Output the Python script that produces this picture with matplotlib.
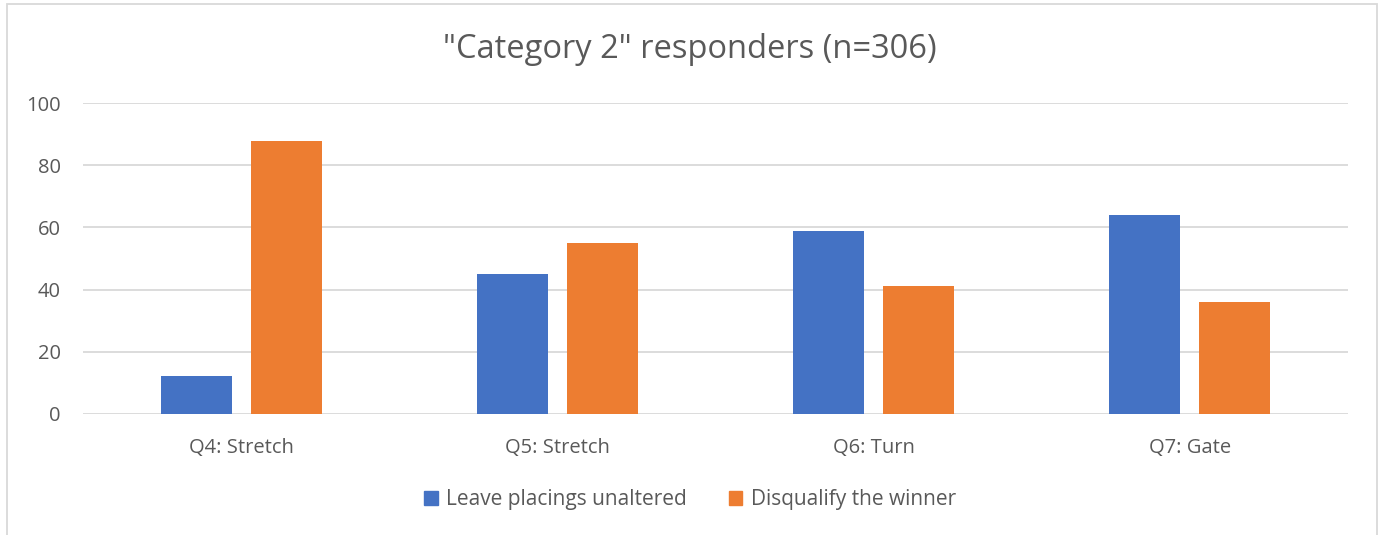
import matplotlib
matplotlib.use("Agg")
import matplotlib.pyplot as plt
import numpy as np
from matplotlib.patches import Rectangle

categories = ["Q4: Stretch", "Q5: Stretch", "Q6: Turn", "Q7: Gate"]
series_names = ["Leave placings unaltered", "Disqualify the winner"]
leave_vals = [12, 45, 59, 64]
disq_vals = [88, 55, 41, 36]
yticks = [0, 20, 40, 60, 80, 100]
title = '"Category 2" responders (n=306)'

plt.rcParams['font.family'] = ['Open Sans', 'DejaVu Sans']
W, H = 1380, 535
fig = plt.figure(figsize=(W/100, H/100), dpi=100)
fig.patch.set_facecolor('white')

ax = fig.add_axes([83/W, (H-414)/H, (1348-83)/W, (414-103)/H])
x = np.arange(len(categories))
bw = 0.2245
off = 0.142
ax.bar(x - off, leave_vals, bw, color='#4472C4', zorder=3, label=series_names[0])
ax.bar(x + off, disq_vals, bw, color='#ED7D31', zorder=3, label=series_names[1])
ax.set_xlim(-0.5, len(categories) - 0.5)
ax.set_yticks(yticks)
ax.set_yticklabels([str(v) for v in yticks])
ax.set_xticks(x)
ax.set_xticklabels(categories)
for s in ax.spines.values():
    s.set_visible(False)
ax.grid(axis='y', color='#d9d9d9', linewidth=1.3, zorder=0)
ax.xaxis.grid(False)
ax.set_axisbelow(True)
ax.tick_params(axis='both', length=0, colors='#595959', labelsize=14.5)
ax.tick_params(axis='y', pad=16)
ax.tick_params(axis='x', pad=17)
ax.set_ylim(-0.15, 100.15)

fig.text(0.5, 1 - 50/H, title, ha='center', va='center', fontsize=23.5, color='#595959')

handles = [Rectangle((0, 0), 1, 1, color='#4472C4'), Rectangle((0, 0), 1, 1, color='#ED7D31')]
fig.legend(handles, series_names, loc='center', bbox_to_anchor=(0.5, 1 - 500/H), ncol=2,
           frameon=False, fontsize=15, labelcolor='#595959', handlelength=0.65,
           handleheight=0.65, handletextpad=0.4, columnspacing=2.0)

fig.patches.append(Rectangle((7/W, -0.01), (1377-7)/W, 1 - 4/H + 0.01, transform=fig.transFigure,
                             fill=False, edgecolor='#d9d9d9', linewidth=1.3))

fig.savefig('out.png', dpi=100, facecolor='white')
